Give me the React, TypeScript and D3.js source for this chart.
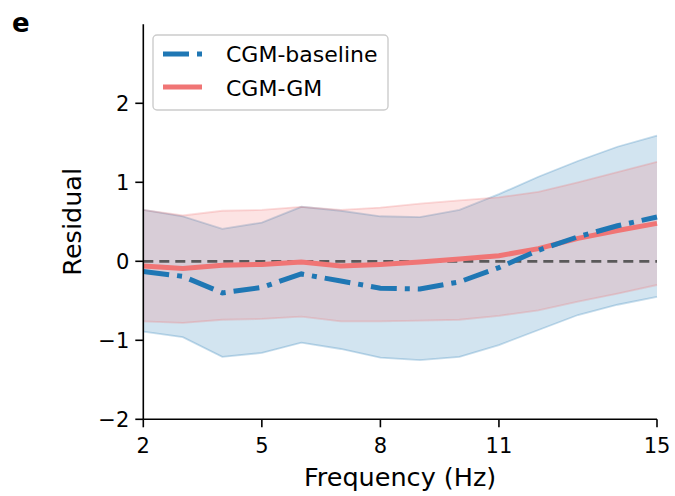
import React from "react";
import * as d3 from "d3";

const freqs = [2, 3, 4, 5, 6, 7, 8, 9, 10, 11, 12, 13, 14, 15];
const baselineMean = [-0.13, -0.19, -0.40, -0.33, -0.16, -0.25, -0.34, -0.35, -0.26, -0.08, 0.14, 0.31, 0.45, 0.56];
const baselineUpper = [0.65, 0.57, 0.41, 0.49, 0.69, 0.64, 0.57, 0.56, 0.65, 0.85, 1.07, 1.27, 1.45, 1.59];
const baselineLower = [-0.89, -0.96, -1.21, -1.16, -1.03, -1.11, -1.22, -1.25, -1.21, -1.06, -0.87, -0.68, -0.55, -0.45];
const gmMean = [-0.06, -0.09, -0.05, -0.04, -0.01, -0.06, -0.04, -0.01, 0.03, 0.07, 0.16, 0.29, 0.39, 0.48];
const gmUpper = [0.65, 0.58, 0.64, 0.65, 0.69, 0.65, 0.68, 0.73, 0.77, 0.81, 0.88, 1.0, 1.13, 1.26];
const gmLower = [-0.76, -0.78, -0.74, -0.73, -0.70, -0.76, -0.76, -0.75, -0.74, -0.69, -0.62, -0.51, -0.41, -0.30];
const xTicks = [2, 5, 8, 11, 15];
const yTicks = [-2, -1, 0, 1, 2];

const BLUE = "#1f77b4";
const RED = "#f07575";
const FONT = "DejaVu Sans, sans-serif";

export default function App() {
  const W = 675, H = 496;
  const x = d3.scaleLinear().domain([2, 15]).range([143.3, 657]);
  const y = d3.scaleLinear().domain([-2, 3]).range([419.3, 24.3]);

  const area = (lo: number[], hi: number[]) =>
    d3.area<number>()
      .x((_, i) => x(freqs[i]))
      .y0((_, i) => y(lo[i]))
      .y1((_, i) => y(hi[i]))(freqs) as string;
  const edge = (v: number[]) =>
    d3.line<number>().x((_, i) => x(freqs[i])).y((_, i) => y(v[i]))(freqs) as string;

  const fmt = (v: number) => (v < 0 ? "\u2212" + Math.abs(v) : String(v));

  return (
    <svg width={W} height={H} style={{ position: "absolute", left: 0, top: 0 }} fontFamily={FONT}>
      <rect width={W} height={H} fill="white" />
      {/* bands */}
      <path d={area(baselineLower, baselineUpper)} fill={BLUE} fillOpacity={0.2} />
      <path d={edge(baselineUpper)} fill="none" stroke={BLUE} strokeOpacity={0.25} strokeWidth={1.8} />
      <path d={edge(baselineLower)} fill="none" stroke={BLUE} strokeOpacity={0.25} strokeWidth={1.8} />
      <path d={area(gmLower, gmUpper)} fill={RED} fillOpacity={0.2} />
      <path d={edge(gmUpper)} fill="none" stroke={RED} strokeOpacity={0.25} strokeWidth={1.8} />
      <path d={edge(gmLower)} fill="none" stroke={RED} strokeOpacity={0.25} strokeWidth={1.8} />
      {/* zero line */}
      <line x1={x(2)} x2={x(15)} y1={y(0)} y2={y(0)} stroke="#4d4d4d" strokeWidth={2.8} strokeDasharray="10,6" strokeOpacity={0.9} />
      {/* mean lines */}
      <path d={edge(gmMean)} fill="none" stroke={RED} strokeWidth={5} />
      <path d={edge(baselineMean)} fill="none" stroke={BLUE} strokeWidth={5} strokeDasharray="26,8,5,8" />
      {/* axes */}
      <line x1={x(2)} x2={x(2)} y1={y(3)} y2={y(-2)} stroke="black" strokeWidth={1.6} />
      <line x1={x(2)} x2={x(15)} y1={y(-2)} y2={y(-2)} stroke="black" strokeWidth={1.6} />
      {yTicks.map((t) => (
        <g key={"y" + t}>
          <line x1={x(2) - 8} x2={x(2)} y1={y(t)} y2={y(t)} stroke="black" strokeWidth={1.6} />
          <text x={x(2) - 14} y={y(t)} dy="0.36em" textAnchor="end" fontSize={21}>{fmt(t)}</text>
        </g>
      ))}
      {xTicks.map((t) => (
        <g key={"x" + t}>
          <line x1={x(t)} x2={x(t)} y1={y(-2)} y2={y(-2) + 8} stroke="black" strokeWidth={1.6} />
          <text x={x(t)} y={453} textAnchor="middle" fontSize={21}>{t}</text>
        </g>
      ))}
      <text x={(x(2) + x(15)) / 2} y={486} textAnchor="middle" fontSize={25.5}>Frequency (Hz)</text>
      <text transform={`translate(81,${(y(3) + y(-2)) / 2}) rotate(-90)`} textAnchor="middle" fontSize={25.5}>Residual</text>
      <text x={12} y={32} fontSize={26} fontWeight="bold">e</text>
      {/* legend */}
      <rect x={153} y={35} width={235} height={75} rx={4} fill="white" fillOpacity={0.8} stroke="#cccccc" strokeWidth={1.4} />
      <line x1={163} x2={202} y1={54} y2={54} stroke={BLUE} strokeWidth={5} strokeDasharray="26,8,5,8" />
      <line x1={163} x2={202} y1={87} y2={87} stroke={RED} strokeWidth={5} />
      <text x={226} y={62} fontSize={22}>CGM-baseline</text>
      <text x={226} y={95.5} fontSize={22}>CGM-GM</text>
    </svg>
  );
}
